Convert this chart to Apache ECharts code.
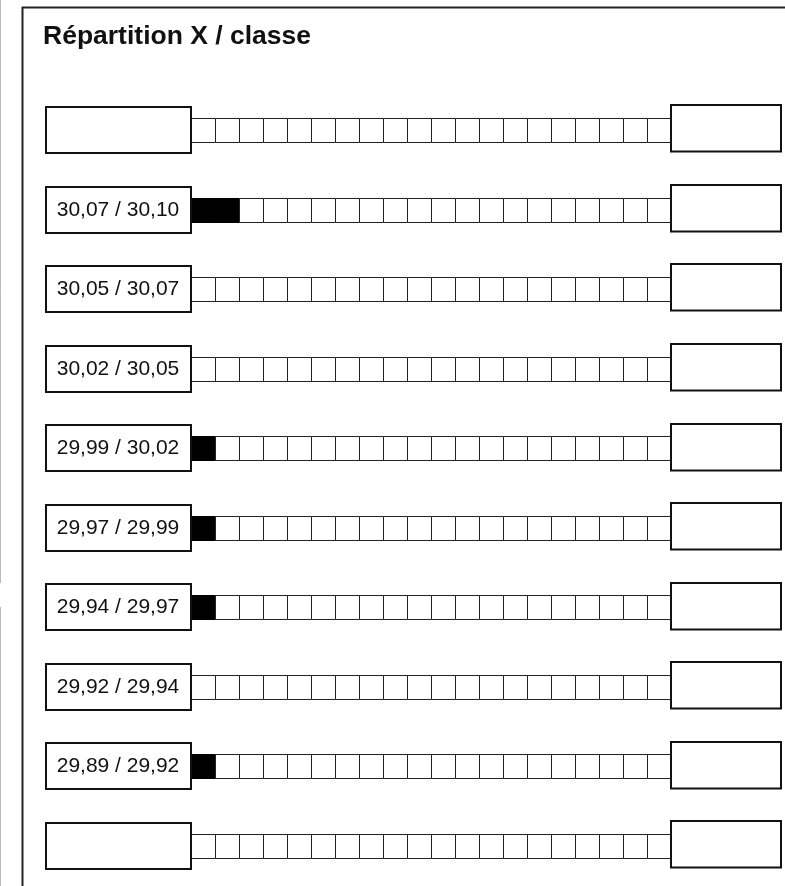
<!DOCTYPE html>
<html>
<head>
<meta charset="utf-8">
<script src="https://cdn.jsdelivr.net/npm/echarts@6/dist/echarts.min.js"></script>
<style>
  html, body { margin: 0; padding: 0; background: #fff; }
  #chart { width: 785px; height: 886px; }
</style>
</head>
<body>
<div id="chart"></div>
<script>
// classes, top to bottom (first and last rows are empty)
const classes = ['', '30,07 / 30,10', '30,05 / 30,07', '30,02 / 30,05', '29,99 / 30,02',
  '29,97 / 29,99', '29,94 / 29,97', '29,92 / 29,94', '29,89 / 29,92', '']
// number of pieces per class
const counts = [0, 2, 0, 0, 1, 1, 1, 0, 1, 0]
const nbCells = 20

const chart = echarts.init(document.getElementById('chart'), null, { renderer: 'canvas' })

function renderRow (params, api) {
  const row = api.value(1)
  const n = api.value(0)
  const p0 = api.coord([0, row])
  const cw = api.size([1, 0])[0]
  const x0 = Math.round(p0[0])
  const cy = p0[1]
  const children = []
  const top = Math.round(cy - 12.2) + 0.5
  const h = 24
  // cells
  for (let i = 0; i < nbCells; i++) {
    const x = Math.round(x0 + i * cw) + 0.5
    const w = Math.round(x0 + (i + 1) * cw) - Math.round(x0 + i * cw)
    const filled = i < n
    children.push({
      type: 'rect',
      shape: { x: x, y: top, width: w, height: h },
      style: { fill: filled ? '#000' : '#fff', stroke: filled ? '#000' : '#222', lineWidth: 1 }
    })
  }
  // label box
  children.push({
    type: 'rect',
    shape: { x: x0 - 145, y: Math.round(cy - 23.3), width: 145, height: 46 },
    style: { fill: '#fff', stroke: '#111', lineWidth: 2 }
  })
  children.push({
    type: 'text',
    style: {
      x: x0 - 73,
      y: cy,
      text: classes[row],
      fill: '#111',
      font: '21px "Liberation Sans", Arial, sans-serif',
      align: 'center',
      verticalAlign: 'middle'
    }
  })
  // right box
  const xr = Math.round(x0 + nbCells * cw)
  children.push({
    type: 'rect',
    shape: { x: xr, y: Math.round(cy - 25), width: 110, height: 46.5 },
    style: { fill: '#fff', stroke: '#111', lineWidth: 2 }
  })
  return { type: 'group', children: children }
}

const option = {
  animation: false,
  backgroundColor: '#fff',
  title: {
    text: 'Répartition X / classe',
    left: 43,
    top: 23,
    padding: 0,
    textStyle: {
      fontFamily: '"Liberation Sans", Arial, sans-serif',
      fontWeight: 'bold',
      fontSize: 26.5,
      color: '#111'
    }
  },
  graphic: [
    {
      type: 'rect',
      shape: { x: 22.5, y: 7.5, width: 800, height: 900 },
      style: { fill: null, stroke: '#222', lineWidth: 2 },
      z: -1
    },
    {
      type: 'line',
      shape: { x1: 0.5, y1: 0, x2: 0.5, y2: 583 },
      style: { stroke: '#bbb', lineWidth: 1 }
    },
    {
      type: 'line',
      shape: { x1: 0.5, y1: 607, x2: 0.5, y2: 886 },
      style: { stroke: '#bbb', lineWidth: 1 }
    }
  ],
  grid: { left: 191, top: 90.6, width: 480, height: 798 },
  xAxis: { type: 'value', min: 0, max: nbCells, interval: 1, show: false },
  yAxis: { type: 'category', data: classes.map((c, i) => i), inverse: true, show: false },
  series: [{
    type: 'custom',
    renderItem: renderRow,
    encode: { x: 0, y: 1 },
    data: counts.map((c, i) => [c, i])
  }]
}
chart.setOption(option)
</script>
</body>
</html>
